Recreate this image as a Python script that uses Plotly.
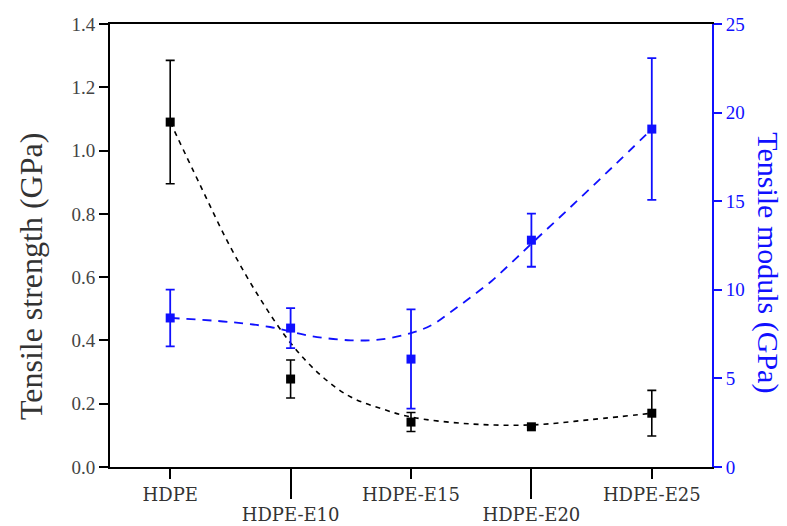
import plotly.graph_objects as go

categories = ["HDPE", "HDPE-E10", "HDPE-E15", "HDPE-E20", "HDPE-E25"]
cat_pos = [0, 1, 2, 3, 4]

strength = [1.09, 0.278, 0.142, 0.127, 0.17]
strength_err = [0.195, 0.06, 0.03, 0.0, 0.072]

modulus = [8.41, 7.84, 6.09, 12.8, 19.07]
modulus_err = [1.6, 1.13, 2.8, 1.5, 4.0]

# dashed trend curves
strength_fit_x = [0, 0.25, 0.5, 0.75, 1.0, 1.25, 1.5, 1.75, 2.0, 2.5, 3.0, 3.5, 4.0]
strength_fit_y = [1.09, 0.89, 0.695, 0.53, 0.392, 0.29, 0.221, 0.185, 0.158, 0.136, 0.133, 0.15, 0.17]

modulus_fit_x = [0, 0.5, 0.83, 1.17, 1.5, 1.75, 2.0, 2.17, 2.33, 2.5, 2.67, 2.83, 3.0, 3.33, 3.67, 4.0]
modulus_fit_y = [8.41, 8.18, 7.9, 7.39, 7.15, 7.2, 7.56, 8.0, 8.75, 9.6, 10.5, 11.5, 12.6, 14.7, 16.9, 19.07]

top_labels_idx = [0, 2, 4]
low_labels_idx = [1, 3]

left_title = "Tensile strength (GPa)"
right_title = "Tensile moduls (GPa)"

BLUE = "#1010ff"
SERIF = "Liberation Serif, Times New Roman, serif"
XFONT = "DejaVu Serif, serif"

fig = go.Figure()

fig.add_trace(go.Scatter(
    x=strength_fit_x, y=strength_fit_y, mode="lines", line_shape="spline",
    line=dict(color="black", width=1.6, dash="5px,5px"), yaxis="y", hoverinfo="skip"))
fig.add_trace(go.Scatter(
    x=modulus_fit_x, y=modulus_fit_y, mode="lines", line_shape="spline",
    line=dict(color=BLUE, width=1.8, dash="9px,7px"), yaxis="y2", hoverinfo="skip"))

fig.add_trace(go.Scatter(
    x=cat_pos, y=strength, mode="markers",
    marker=dict(symbol="square", size=9, color="black"),
    error_y=dict(type="data", array=strength_err, color="black", thickness=1.6, width=4.5),
    yaxis="y"))
fig.add_trace(go.Scatter(
    x=cat_pos, y=modulus, mode="markers",
    marker=dict(symbol="square", size=9, color=BLUE),
    error_y=dict(type="data", array=modulus_err, color=BLUE, thickness=1.8, width=4.5),
    yaxis="y2"))

# helper trace for the second (lower) row of category labels
fig.add_trace(go.Scatter(x=[cat_pos[i] for i in low_labels_idx], y=[None, None],
                         mode="markers", xaxis="x3", yaxis="y", showlegend=False,
                         hoverinfo="skip"))

fig.update_layout(
    width=787, height=526,
    margin=dict(l=110, r=75, t=24, b=59, autoexpand=False),
    paper_bgcolor="white", plot_bgcolor="white",
    showlegend=False,
    font=dict(family=SERIF, color="#333333"),
    xaxis=dict(
        range=[-0.5, 4.5], showgrid=False, zeroline=False, automargin=False,
        showline=True, linecolor="black", linewidth=2, mirror=True,
        tickmode="array", tickvals=[cat_pos[i] for i in top_labels_idx],
        ticktext=[categories[i] for i in top_labels_idx],
        ticks="outside", ticklen=10, tickwidth=2, tickcolor="black",
        tickfont=dict(size=18, family=XFONT, color="#333333"),
    ),
    xaxis3=dict(
        range=[-0.5, 4.5], overlaying="x", side="bottom", showgrid=False,
        zeroline=False, showline=False, automargin=False,
        tickmode="array", tickvals=[cat_pos[i] for i in low_labels_idx],
        ticktext=[categories[i] for i in low_labels_idx],
        ticks="outside", ticklen=31, tickwidth=2, tickcolor="black",
        tickfont=dict(size=18, family=XFONT, color="#333333"),
    ),
    yaxis=dict(
        range=[0, 1.4], dtick=0.2, tickformat=".1f", showgrid=False, zeroline=False,
        showline=True, linecolor="black", linewidth=2, automargin=False,
        ticks="outside", ticklen=9, tickwidth=2, tickcolor="black",
        tickfont=dict(size=19, family=SERIF, color="#444444"),
    ),
    yaxis2=dict(
        range=[0, 25], dtick=5, overlaying="y", side="right", showgrid=False, zeroline=False,
        showline=True, linecolor=BLUE, linewidth=2, automargin=False,
        ticks="outside", ticklen=8, tickwidth=2, tickcolor=BLUE,
        tickfont=dict(size=19, family=SERIF, color=BLUE),
    ),
    annotations=[
        dict(text=left_title, textangle=-90, xref="paper", yref="paper",
             x=-0.131, y=0.429, xanchor="center", yanchor="middle", showarrow=False,
             font=dict(size=32, family=SERIF, color="#333333")),
        dict(text=right_title, textangle=90, xref="paper", yref="paper",
             x=1.093, y=0.46, xanchor="center", yanchor="middle", showarrow=False,
             font=dict(size=30, family=SERIF, color=BLUE)),
    ],
)

# the page body has a default 8px margin; remove it so the figure sits at (0, 0)
fig.write_html("out.html", config={"displayModeBar": False},
               post_script="document.body.style.margin='0';document.body.style.padding='0';")
